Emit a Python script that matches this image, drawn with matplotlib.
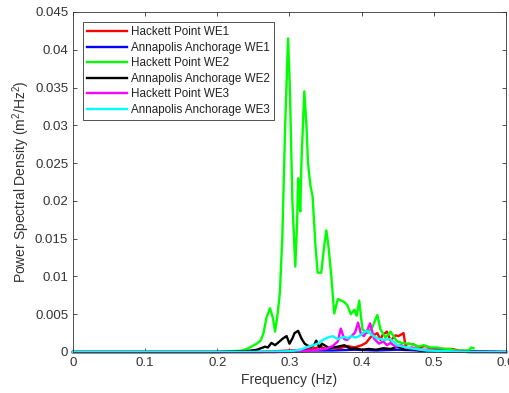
import matplotlib
matplotlib.use('Agg')
import matplotlib.pyplot as plt
from matplotlib.ticker import FuncFormatter

plt.rcParams['font.family'] = ['Liberation Sans', 'DejaVu Sans']
plt.rcParams['mathtext.fontset'] = 'custom'
plt.rcParams['mathtext.rm'] = 'Liberation Sans'
plt.rcParams['mathtext.default'] = 'regular'

# Hackett Point WE1 (red)
f_hp1 = [0, 0.26, 0.28, 0.3, 0.32, 0.335, 0.343, 0.35, 0.36, 0.37, 0.38, 0.39, 0.4, 0.406,
         0.4126, 0.4217, 0.426, 0.4286, 0.435, 0.44, 0.447, 0.451, 0.458, 0.4606, 0.465,
         0.472, 0.48, 0.488, 0.495, 0.505, 0.515, 0.525, 0.535, 0.55, 0.6]
p_hp1 = [0, 0, 0.0001, 0.0002, 0.0003, 0.0005, 0.0007, 0.0004, 0.0006, 0.0005, 0.0008, 0.0006,
         0.0009, 0.0012, 0.002, 0.0025, 0.0016, 0.0022, 0.0027, 0.0015, 0.0022, 0.0021, 0.0025,
         0.0009, 0.0011, 0.001, 0.0006, 0.0008, 0.0005, 0.0005, 0.0004, 0.0004, 0.0002, 0.0001, 0]

# Annapolis Anchorage WE1 (blue)
f_aa1 = [0, 0.28, 0.3, 0.33, 0.36, 0.39, 0.42, 0.45, 0.48, 0.5, 0.52, 0.6]
p_aa1 = [0, 0, 0.0001, 0.0002, 0.0002, 0.0003, 0.0002, 0.0003, 0.0002, 0.0002, 0.0001, 0]

# Hackett Point WE2 (green)
f_hp2 = [0, 0.2, 0.22, 0.235, 0.243, 0.2545, 0.26, 0.264, 0.268, 0.273, 0.277, 0.28, 0.2835,
         0.2866, 0.29, 0.294, 0.298, 0.3005, 0.304, 0.308, 0.3105, 0.312, 0.3135, 0.315, 0.3165,
         0.3205, 0.3235, 0.3256, 0.329, 0.332, 0.336, 0.339, 0.344, 0.348, 0.351, 0.354, 0.3576,
         0.362, 0.367, 0.372, 0.376, 0.38, 0.385, 0.39, 0.393, 0.3966, 0.401, 0.408, 0.415,
         0.4217, 0.426, 0.433, 0.44, 0.449, 0.456, 0.463, 0.472, 0.478, 0.486, 0.495, 0.505,
         0.513, 0.522, 0.53, 0.54, 0.548, 0.552, 0.555]
p_hp2 = [0, 0, 0.0001, 0.0002, 0.0005, 0.0011, 0.0015, 0.0025, 0.0045, 0.0058, 0.0045, 0.0027,
         0.005, 0.0078, 0.015, 0.03, 0.0415, 0.035, 0.02, 0.0113, 0.017, 0.023, 0.02, 0.0186,
         0.025, 0.0345, 0.03, 0.025, 0.022, 0.0206, 0.014, 0.0105, 0.0105, 0.014, 0.0161, 0.014,
         0.0104, 0.0051, 0.007, 0.0068, 0.0066, 0.0062, 0.005, 0.0056, 0.0048, 0.0068, 0.003,
         0.0025, 0.0033, 0.0049, 0.003, 0.0019, 0.0027, 0.0014, 0.0012, 0.0011, 0.001, 0.0007,
         0.0009, 0.0006, 0.0006, 0.0004, 0.0004, 0.0002, 0.0002, 0.0002, 0.0006, 0.0005]

# Annapolis Anchorage WE2 (black)
f_aa2 = [0, 0.2, 0.24, 0.255, 0.266, 0.27, 0.275, 0.28, 0.285, 0.291, 0.296, 0.3, 0.304, 0.307,
         0.312, 0.3165, 0.321, 0.326, 0.33, 0.334, 0.337, 0.3416, 0.345, 0.35, 0.355, 0.36,
         0.367, 0.376, 0.385, 0.392, 0.4, 0.41, 0.42, 0.43, 0.44, 0.45, 0.46, 0.47, 0.48, 0.5,
         0.52, 0.55, 0.6]
p_aa2 = [0, 0, 0.0001, 0.0003, 0.0007, 0.0006, 0.0012, 0.0009, 0.0013, 0.0018, 0.0021, 0.0011,
         0.0018, 0.0025, 0.0028, 0.0018, 0.0011, 0.0008, 0.0007, 0.0009, 0.0015, 0.0006, 0.0011,
         0.0008, 0.0005, 0.0006, 0.0007, 0.0009, 0.0004, 0.0005, 0.0003, 0.0004, 0.0003, 0.0005,
         0.0004, 0.0007, 0.0003, 0.0004, 0.0002, 0.0002, 0.0001, 0, 0]

# Hackett Point WE3 (magenta)
f_hp3 = [0, 0.3, 0.32, 0.34, 0.35, 0.36, 0.367, 0.371, 0.376, 0.38, 0.387, 0.391, 0.395, 0.399,
         0.403, 0.407, 0.4117, 0.417, 0.424, 0.43, 0.435, 0.44, 0.447, 0.455, 0.462, 0.47, 0.48,
         0.49, 0.5, 0.52, 0.55, 0.6]
p_hp3 = [0, 0, 0.0001, 0.0003, 0.0004, 0.0008, 0.0014, 0.0031, 0.0017, 0.0016, 0.0022, 0.0026,
         0.0039, 0.0024, 0.0021, 0.0027, 0.0038, 0.0018, 0.0011, 0.0014, 0.0009, 0.0012, 0.0007,
         0.0009, 0.0005, 0.0006, 0.0003, 0.0003, 0.0002, 0.0001, 0, 0]

# Annapolis Anchorage WE3 (cyan)
f_aa3 = [0, 0.25, 0.3, 0.315, 0.3256, 0.333, 0.339, 0.346, 0.353, 0.36, 0.367, 0.372, 0.376,
         0.381, 0.385, 0.392, 0.398, 0.403, 0.408, 0.415, 0.422, 0.431, 0.44, 0.449, 0.458,
         0.467, 0.475, 0.49, 0.52, 0.55, 0.6]
p_aa3 = [0, 0, 0.0001, 0.0003, 0.0007, 0.0009, 0.0011, 0.0016, 0.0019, 0.0021, 0.0017, 0.0019,
         0.002, 0.0018, 0.0021, 0.0019, 0.0022, 0.0026, 0.0028, 0.0022, 0.0018, 0.0016, 0.0017,
         0.0009, 0.0007, 0.0005, 0.0004, 0.0002, 0.0001, 0, 0]

series = [
    ('Hackett Point WE1', f_hp1, p_hp1, '#ff0000'),
    ('Annapolis Anchorage WE1', f_aa1, p_aa1, '#0000ff'),
    ('Hackett Point WE2', f_hp2, p_hp2, '#00ff00'),
    ('Annapolis Anchorage WE2', f_aa2, p_aa2, '#000000'),
    ('Hackett Point WE3', f_hp3, p_hp3, '#ff00ff'),
    ('Annapolis Anchorage WE3', f_aa3, p_aa3, '#00ffff'),
]

fig = plt.figure(figsize=(5.1, 3.93), dpi=100)
ax = fig.add_axes([73 / 510, 1 - 352 / 393, 433 / 510, 340 / 393])

for name, f, p, c in series:
    ax.plot(f, p, color=c, lw=1.7, label=name, clip_on=False)

ax.set_xlim(0, 0.6)
ax.set_ylim(0, 0.045)
ax.set_xticks([0, 0.1, 0.2, 0.3, 0.4, 0.5, 0.6])
ax.set_yticks([i * 0.005 for i in range(10)])
fmt = FuncFormatter(lambda v, pos: '%g' % round(v, 4))
ax.xaxis.set_major_formatter(fmt)
ax.yaxis.set_major_formatter(fmt)

ax.tick_params(direction='in', length=3, width=0.6, top=True, right=True,
               labelsize=9.5, colors='#333333')
for s in ax.spines.values():
    s.set_linewidth(0.6)
    s.set_color('#333333')

ax.set_xlabel('Frequency (Hz)', fontsize=10, color='#333333', labelpad=3)
ax.set_ylabel('Power Spectral Density (m$^2$/Hz$^2$)', fontsize=10, color='#333333', labelpad=2)

leg = ax.legend(loc='upper left', bbox_to_anchor=(0.023, 0.97), borderaxespad=0,
                fontsize=8.4, handlelength=3.4, handletextpad=0.4, labelspacing=0.3,
                fancybox=False, framealpha=1, borderpad=0.35)
leg.get_frame().set_edgecolor('#333333')
leg.get_frame().set_linewidth(0.6)
for line in leg.get_lines():
    line.set_linewidth(1.7)
for t in leg.get_texts():
    t.set_color('#222222')

fig.savefig('out.png', dpi=100)
